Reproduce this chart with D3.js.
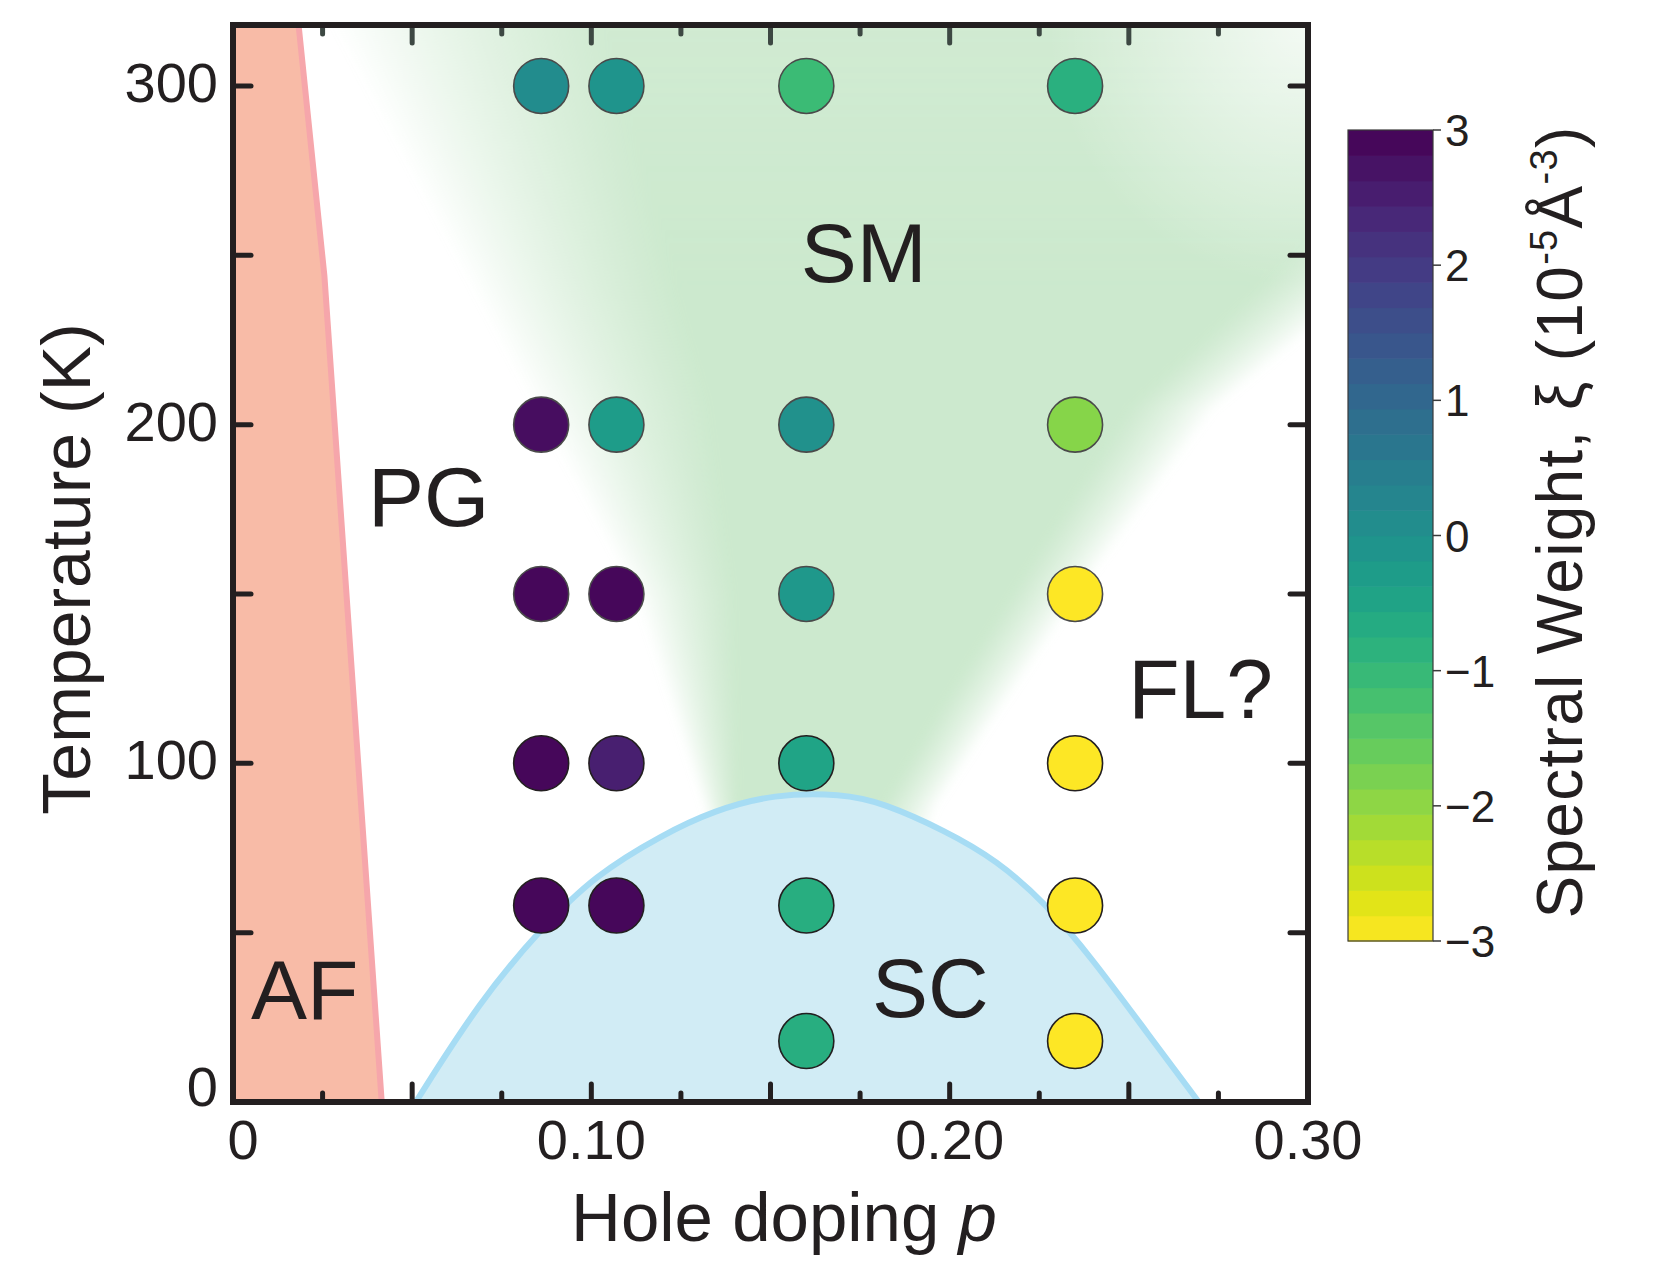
<!DOCTYPE html>
<html>
<head>
<meta charset="utf-8">
<script src="https://cdn.jsdelivr.net/npm/d3@7"></script>
<style>
body { margin: 0; background: #fff; }
text { font-family: "Liberation Sans", Arial, Helvetica, sans-serif; fill: #231f20; }
</style>
</head>
<body>
<div id="chart"></div>
<script>
// measured points: doping p, temperature T (K), spectral weight xi (1e-5 A^-3)
const spP  = [0.086, 0.107, 0.160, 0.235,
              0.086, 0.107, 0.160, 0.235,
              0.086, 0.107, 0.160, 0.235,
              0.086, 0.107, 0.160, 0.235,
              0.086, 0.107, 0.160, 0.235,
                            0.160, 0.235];
const spT  = [300, 300, 300, 300,
              200, 200, 200, 200,
              150, 150, 150, 150,
              100, 100, 100, 100,
               58,  58,  58,  58,
                         18,  18];
const spXi = [0.1, -0.1, -1.1, -0.8,
              2.8, -0.3, 0.0, -1.9,
              2.9,  2.9, -0.2, -3.0,
              2.9,  2.5, -0.5, -3.0,
              2.9,  2.9, -0.75, -3.0,
                         -0.75, -3.0];

// superconducting dome
const domeP = [0.051, 0.069, 0.0858, 0.101, 0.120, 0.134, 0.151, 0.170, 0.181, 0.199, 0.213, 0.227, 0.240, 0.254, 0.2695];
const domeT = [0, 30, 51, 67, 79, 86, 91, 91, 88.5, 80, 71.5, 58.5, 42, 22, 0];

// antiferromagnet boundary
const afP = [0.0183, 0.0255, 0.0415];
const afT = [318, 244, 0];

// strange-metal fan: edge centre and fade width (in p) versus T
const fanLeftT  = [80, 88, 150, 207, 316, 340];
const fanLeftP  = [0.138, 0.136, 0.126, 0.108, 0.066, 0.058];
const fanLeftW  = [0.010, 0.010, 0.028, 0.050, 0.075, 0.080];
const fanRightT = [80, 88, 115, 154, 205, 240, 272, 340];
const fanRightP = [0.186, 0.189, 0.205, 0.229, 0.262, 0.300, 0.340, 0.420];
const fanRightW = [0.016, 0.016, 0.018, 0.020, 0.025, 0.030, 0.040, 0.050];

const xTickVals = [0, 0.10, 0.20, 0.30];
const xTickText = ["0", "0.10", "0.20", "0.30"];
const yTickVals = [0, 100, 200, 300];
const cbTicks = [3, 2, 1, 0, -1, -2, -3];

const regionLabels = [
  {text: "SM", p: 0.176, T: 242},
  {text: "PG", p: 0.0546, T: 170},
  {text: "AF", p: 0.020, T: 24.5},
  {text: "SC", p: 0.1946, T: 25},
  {text: "FL?", p: 0.270, T: 113.5}
];

const W = 1667, H = 1265;
const margin = {top: 25, right: 359, bottom: 163, left: 233};
const width = W - margin.left - margin.right,
      height = H - margin.top - margin.bottom;

const svg = d3.select("#chart").append("svg")
  .attr("width", W).attr("height", H)
  .style("display", "block");

svg.append("rect").attr("width", W).attr("height", H).attr("fill", "#fff");

const defs = svg.append("defs");
defs.append("clipPath").attr("id", "plotclip")
  .append("rect").attr("width", width).attr("height", height);
defs.append("filter").attr("id", "blurSoft")
  .attr("x", "-10%").attr("y", "-10%").attr("width", "120%").attr("height", "120%")
  .append("feGaussianBlur").attr("stdDeviation", 4);

const g = svg.append("g").attr("transform", `translate(${margin.left},${margin.top})`);

const x = d3.scaleLinear().domain([0, 0.30]).range([0, width]);
const y = d3.scaleLinear().domain([0, 318]).range([height, 0]);
const color = v => d3.interpolateViridis((3 - v) / 6);

const plot = g.append("g").attr("clip-path", "url(#plotclip)");

// SM fan built from horizontal strips, each with its own left/right fade
const leftP = d3.scaleLinear().domain(fanLeftT).range(fanLeftP).clamp(true);
const leftW = d3.scaleLinear().domain(fanLeftT).range(fanLeftW).clamp(true);
const rightP = d3.scaleLinear().domain(fanRightT).range(fanRightP).clamp(true);
const rightW = d3.scaleLinear().domain(fanRightT).range(fanRightW).clamp(true);
const fanTop = 330, fanBottom = 80, stripH = 3;
const fanG = plot.append("g").attr("filter", "url(#blurSoft)");
for (let yy = y(fanTop); yy < y(fanBottom); yy += stripH) {
  const T = y.invert(yy + stripH / 2);
  const x0 = x(leftP(T) - leftW(T) / 2), x1 = x(leftP(T) + leftW(T) / 2);
  const x2 = x(rightP(T) - rightW(T) / 2), x3 = x(rightP(T) + rightW(T) / 2);
  const vf = T > 240 ? 1 - 0.12 * (T - 240) / 80 : 1;
  const id = "fan" + Math.round(yy * 10);
  const lg = defs.append("linearGradient").attr("id", id)
    .attr("gradientUnits", "userSpaceOnUse")
    .attr("x1", x0).attr("x2", x3).attr("y1", 0).attr("y2", 0);
  const span = x3 - x0;
  [[0, 0], [(x1 - x0) / span, vf], [Math.max((x2 - x0) / span, (x1 - x0) / span), vf], [1, 0]]
    .forEach(s => lg.append("stop").attr("offset", s[0])
      .attr("stop-color", "#cce9ce").attr("stop-opacity", s[1]));
  fanG.append("rect").attr("x", x0).attr("width", span)
    .attr("y", yy).attr("height", stripH + 1)
    .attr("fill", `url(#${id})`);
}
// paler top-right corner
const corner = defs.append("radialGradient").attr("id", "corner")
  .attr("gradientUnits", "userSpaceOnUse")
  .attr("cx", width).attr("cy", 0).attr("r", 260);
corner.append("stop").attr("offset", 0).attr("stop-color", "#fff").attr("stop-opacity", 0.75);
corner.append("stop").attr("offset", 1).attr("stop-color", "#fff").attr("stop-opacity", 0);
plot.append("rect").attr("x", width - 300).attr("y", 0).attr("width", 300).attr("height", 300)
  .attr("fill", "url(#corner)");

// AF region
const closed = d3.line().curve(d3.curveLinearClosed);
const afPts = [[x(0), y(0)], [x(0), y(318)]]
  .concat(afP.map((p, i) => [x(p), y(afT[i])]));
plot.append("path").attr("d", closed(afPts)).attr("fill", "#f8bba7");
plot.append("path")
  .attr("d", d3.line()(afP.map((p, i) => [x(p), y(afT[i])])))
  .attr("fill", "none").attr("stroke", "#f6a6ab").attr("stroke-width", 6);

// SC dome
const domePts = domeP.map((p, i) => [p, domeT[i]]);
plot.append("path").datum(domePts)
  .attr("d", d3.area().curve(d3.curveBasis)
    .x(d => x(d[0])).y0(y(0)).y1(d => y(d[1])))
  .attr("fill", "#d1ecf5");
plot.append("path").datum(domePts)
  .attr("d", d3.line().curve(d3.curveBasis)
    .x(d => x(d[0])).y(d => y(d[1])))
  .attr("fill", "none").attr("stroke", "#a6dcf4").attr("stroke-width", 6);

// data points
g.selectAll("circle.pt")
  .data(spP.map((p, i) => ({p: p, T: spT[i], v: spXi[i]})))
  .join("circle").attr("class", "pt")
  .attr("cx", d => x(d.p)).attr("cy", d => y(d.T))
  .attr("r", 27.5)
  .attr("fill", d => color(d.v))
  .attr("stroke", d => d.T >= 150 ? "#4a4a4a" : "#231f20")
  .attr("stroke-width", 1.6);

// region labels
g.selectAll("text.region")
  .data(regionLabels)
  .join("text").attr("class", "region")
  .attr("x", d => x(d.p)).attr("y", d => y(d.T))
  .attr("text-anchor", "middle")
  .style("font-size", "84px")
  .text(d => d.text);

// ticks (inward on all sides)
const tickG = g.append("g")
  .attr("stroke", "#231f20").attr("stroke-width", 5).attr("stroke-linecap", "round");
d3.range(1, 12).map(i => i * 0.025).forEach((p, i) => {
  const len = (i % 2 === 1) ? 18 : 9;
  tickG.append("line").attr("x1", x(p)).attr("x2", x(p))
    .attr("y1", height).attr("y2", height - len);
  tickG.append("line").attr("x1", x(p)).attr("x2", x(p))
    .attr("y1", 0).attr("y2", len).attr("stroke", "#3d4843");
});
d3.range(50, 301, 50).forEach(t => {
  tickG.append("line").attr("x1", 0).attr("x2", 18)
    .attr("y1", y(t)).attr("y2", y(t));
  tickG.append("line").attr("x1", width).attr("x2", width - 18)
    .attr("y1", y(t)).attr("y2", y(t));
});

// frame
g.append("rect").attr("width", width).attr("height", height)
  .attr("fill", "none").attr("stroke", "#231f20").attr("stroke-width", 6);

// tick labels
g.selectAll("text.xt").data(xTickVals).join("text").attr("class", "xt")
  .attr("x", d => x(d) + (d === 0 ? 10 : 0)).attr("y", height + 57)
  .attr("text-anchor", "middle").style("font-size", "56px")
  .text((d, i) => xTickText[i]);
g.selectAll("text.yt").data(yTickVals).join("text").attr("class", "yt")
  .attr("x", -15).attr("y", d => y(d) + 16 - (d === 0 ? 12 : 0))
  .attr("text-anchor", "end").style("font-size", "56px")
  .text(d => d);

// axis titles
svg.append("text")
  .attr("transform", "translate(90,569) rotate(-90)")
  .attr("text-anchor", "middle").style("font-size", "68px")
  .text("Temperature (K)");
const xt = svg.append("text")
  .attr("x", 784).attr("y", 1241)
  .attr("text-anchor", "middle").style("font-size", "69px");
xt.append("tspan").text("Hole doping ");
xt.append("tspan").style("font-style", "italic").text("p");

// colorbar
const cb = {x: 1348, y: 130, w: 85, h: 811};
const cbScale = d3.scaleLinear().domain([-3, 3]).range([cb.y + cb.h, cb.y]);
const nBands = 32;
const bandVals = d3.range(nBands).map(i => -3 + (i + 0.5) * 6 / nBands);
svg.append("g").selectAll("rect")
  .data(bandVals).join("rect")
  .attr("x", cb.x)
  .attr("y", d => cbScale(d + 3 / nBands))
  .attr("width", cb.w)
  .attr("height", cb.h / nBands + 0.6)
  .attr("fill", d => color(d));
svg.append("rect").attr("x", cb.x).attr("y", cb.y)
  .attr("width", cb.w).attr("height", cb.h)
  .attr("fill", "none").attr("stroke", "#3a3a3a").attr("stroke-width", 1.2);
const cbAxis = svg.append("g");
cbAxis.selectAll("line").data(cbTicks).join("line")
  .attr("x1", cb.x + cb.w).attr("x2", cb.x + cb.w + 8)
  .attr("y1", d => cbScale(d)).attr("y2", d => cbScale(d))
  .attr("stroke", "#3a3a3a").attr("stroke-width", 1.5);
cbAxis.selectAll("text").data(cbTicks).join("text")
  .attr("x", cb.x + cb.w + 12).attr("y", d => cbScale(d) + 16)
  .style("font-size", "44px")
  .text(d => d3.format("d")(d));

const cbl = svg.append("text")
  .attr("transform", "translate(1582,522) rotate(-90)")
  .attr("text-anchor", "middle").style("font-size", "64px")
  .style("letter-spacing", "1.3px");
cbl.append("tspan").text("Spectral Weight, \u03BE  (10");
cbl.append("tspan").attr("dy", -25).style("font-size", "38px").text("-5");
cbl.append("tspan").attr("dy", 25).text("\u00C5");
cbl.append("tspan").attr("dy", -25).style("font-size", "38px").text("-3");
cbl.append("tspan").attr("dy", 25).text(")");
</script>
</body>
</html>
